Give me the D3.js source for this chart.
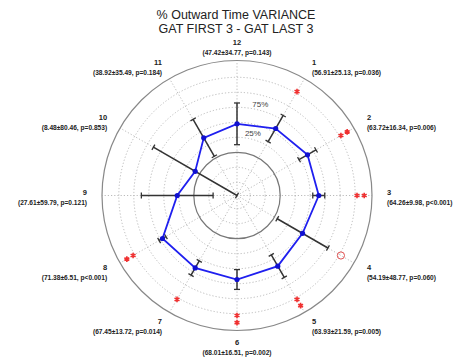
<!DOCTYPE html>
<html>
<head>
<meta charset="utf-8">
<script src="https://cdn.jsdelivr.net/npm/d3@7"></script>
<style>
  body { margin: 0; background: #fff; }
  svg { display: block; font-family: "Liberation Sans", Arial, sans-serif; }
</style>
</head>
<body>
<svg width="459" height="358"></svg>
<script>
// clock positions, starting at the top and going clockwise
const categories = ["12", "1", "2", "3", "4", "5", "6", "7", "8", "9", "10", "11"]
const means = [47.42, 56.91, 63.72, 64.26, 54.19, 63.93, 68.01, 67.45, 71.38, 27.61, 8.48, 38.92]
const sds = [34.77, 25.13, 16.34, 9.98, 48.77, 21.59, 16.51, 13.72, 6.51, 59.79, 80.46, 35.49]
const pValues = ["0.143", "0.036", "0.006", "<0.001", "0.060", "0.005", "0.002", "0.014", "<0.001", "0.121", "0.853", "0.184"]
// significance markers: * p<0.05, ** p<0.01, o p<0.1
const sigMarks = ["", "*", "**", "**", "o", "**", "**", "*", "**", "", "", ""]
const ringTicks = [-50, -25, 25, 50, 75, 100, 125]
const ringLabels = [25, 75]
const sigLevels = [128, 140]

const svg = d3.select("svg")
const cx = 237, cy = 195.5, R = 135

const angle = d3.scaleBand().domain(categories).range([0, 2 * Math.PI]).padding(0)
const r = d3.scaleLinear().domain([-72, 153]).range([0, R]).clamp(true)

const px = (a, rad) => cx + rad * Math.sin(a)
const py = (a, rad) => cy - rad * Math.cos(a)

// title
svg.append("text").attr("x", 236).attr("y", 19).attr("text-anchor", "middle")
  .attr("font-size", 12.5).attr("fill", "#222").text("% Outward Time VARIANCE")
svg.append("text").attr("x", 236).attr("y", 33).attr("text-anchor", "middle")
  .attr("font-size", 12.5).attr("fill", "#222").text("GAT FIRST 3 - GAT LAST 3")

const g = svg.append("g")

// dotted rings
g.selectAll(".ring").data(ringTicks).enter().append("circle")
  .attr("cx", cx).attr("cy", cy).attr("r", d => r(d))
  .attr("fill", "none").attr("stroke", "#aaa").attr("stroke-width", 0.8)
  .attr("stroke-dasharray", "1.2,2")

// spokes
g.selectAll(".spoke").data(categories).enter().append("line")
  .attr("x1", cx).attr("y1", cy)
  .attr("x2", d => px(angle(d), R)).attr("y2", d => py(angle(d), R))
  .attr("stroke", "#aaa").attr("stroke-width", 0.8).attr("stroke-dasharray", "1.2,2")

// zero ring and outer ring
g.append("circle").attr("cx", cx).attr("cy", cy).attr("r", r(0))
  .attr("fill", "none").attr("stroke", "#777").attr("stroke-width", 1.2)
g.append("circle").attr("cx", cx).attr("cy", cy).attr("r", R)
  .attr("fill", "none").attr("stroke", "#888").attr("stroke-width", 1.2)

// ring labels
g.selectAll(".rlab").data(ringLabels).enter().append("text")
  .attr("x", d => px(0.25, r(d) + 6)).attr("y", d => py(0.25, r(d) + 6) + 3)
  .attr("text-anchor", "middle").attr("font-size", 8).attr("fill", "#444")
  .text(d => d + "%")

const data = categories.map((c, i) => ({
  cat: c, a: angle(c), mean: means[i], sd: sds[i], p: pValues[i], sig: sigMarks[i]
}))

// error bars
const bars = g.selectAll(".err").data(data).enter().append("g")
bars.append("line")
  .attr("x1", d => px(d.a, r(d.mean - d.sd))).attr("y1", d => py(d.a, r(d.mean - d.sd)))
  .attr("x2", d => px(d.a, r(d.mean + d.sd))).attr("y2", d => py(d.a, r(d.mean + d.sd)))
  .attr("stroke", "#333").attr("stroke-width", 1.5)
const cap = 3
;[-1, 1].forEach(s => {
  bars.append("line")
    .attr("x1", d => { const rr = r(d.mean + s * d.sd); return px(d.a, rr) + cap * Math.cos(d.a) })
    .attr("y1", d => { const rr = r(d.mean + s * d.sd); return py(d.a, rr) + cap * Math.sin(d.a) })
    .attr("x2", d => { const rr = r(d.mean + s * d.sd); return px(d.a, rr) - cap * Math.cos(d.a) })
    .attr("y2", d => { const rr = r(d.mean + s * d.sd); return py(d.a, rr) - cap * Math.sin(d.a) })
    .attr("stroke", "#333").attr("stroke-width", 1.3)
})

// mean line
const line = d3.lineRadial().angle(d => d.a).radius(d => r(d.mean)).curve(d3.curveLinearClosed)
g.append("path").datum(data).attr("transform", `translate(${cx},${cy})`)
  .attr("d", line).attr("fill", "none").attr("stroke", "#1f1fef").attr("stroke-width", 1.8)
g.selectAll(".dot").data(data).enter().append("circle")
  .attr("cx", d => px(d.a, r(d.mean))).attr("cy", d => py(d.a, r(d.mean)))
  .attr("r", 2.6).attr("fill", "#1010d0")

// significance markers
const star = d3.symbol().type(d3.symbolAsterisk).size(22)
data.forEach(d => {
  if (d.sig === "o") {
    g.append("circle").attr("cx", px(d.a, r(sigLevels[0]))).attr("cy", py(d.a, r(sigLevels[0])))
      .attr("r", 3.6).attr("fill", "none").attr("stroke", "#e05050").attr("stroke-width", 1)
  } else {
    for (let k = 0; k < d.sig.length; k++) {
      g.append("path").attr("d", star)
        .attr("transform", `translate(${px(d.a, r(sigLevels[k]))},${py(d.a, r(sigLevels[k]))})`)
        .attr("fill", "none").attr("stroke", "#f03030").attr("stroke-width", 1.6)
    }
  }
})

// category labels
const LR = 150
const labs = g.selectAll(".lab").data(data).enter().append("g")
const anchor = d => {
  const s = Math.sin(d.a)
  return Math.abs(s) < 0.01 ? "middle" : (s > 0 ? "start" : "end")
}
labs.append("text")
  .attr("x", d => px(d.a, LR)).attr("y", d => py(d.a, LR) - 1)
  .attr("text-anchor", anchor).attr("font-size", 7.5).attr("font-weight", "bold").attr("fill", "#222")
  .text(d => d.cat)
labs.append("text")
  .attr("x", d => px(d.a, LR)).attr("y", d => py(d.a, LR) + 9)
  .attr("text-anchor", anchor).attr("font-size", 6.6).attr("font-weight", "bold").attr("fill", "#222")
  .text(d => `(${d.mean.toFixed(2)}±${d.sd.toFixed(2)}, p${d.p.startsWith("<") ? d.p : "=" + d.p})`)
</script>
</body>
</html>
